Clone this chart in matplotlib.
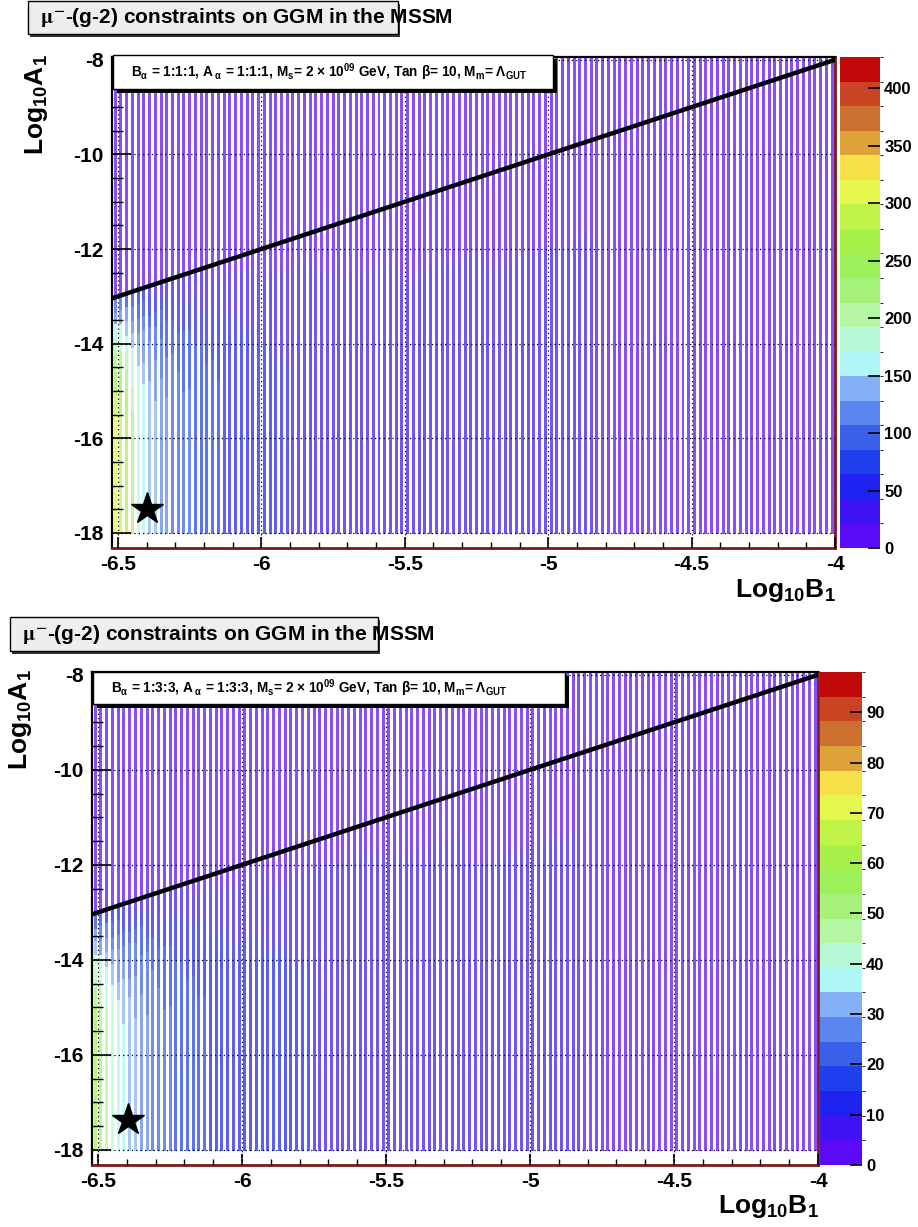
import numpy as np
import matplotlib
matplotlib.use('Agg')
import matplotlib.pyplot as plt
from matplotlib.colors import ListedColormap, BoundaryNorm
from matplotlib.cm import ScalarMappable
from matplotlib.patches import Rectangle
from matplotlib.ticker import MultipleLocator

plt.rcParams['font.family'] = ['Liberation Sans', 'DejaVu Sans']
plt.rcParams['font.weight'] = 'bold'
plt.rcParams['axes.unicode_minus'] = False
plt.rcParams['mathtext.fontset'] = 'custom'
plt.rcParams['mathtext.rm'] = 'Liberation Sans:bold'
plt.rcParams['mathtext.it'] = 'Liberation Sans:bold'
plt.rcParams['mathtext.bf'] = 'Liberation Sans:bold'

W, H = 918, 1227

# ROOT palette, 20 contour bands (bottom -> top)
palette = ['#5a0af5', '#3c14f5', '#1e22f0', '#2040ee', '#3a60ea',
           '#5a84ee', '#84b0f6', '#b0f8f8', '#b8fad8', '#b4f6a4',
           '#a6f27a', '#9cf05a', '#a8f04a', '#c0f448', '#e4f84e',
           '#f5e04a', '#dea43a', '#cc7030', '#c84422', '#c00808']

# scan grid: log10 B1 columns, log10 A1 rows
b_grid = np.round(np.arange(-6.51, -4.0, 0.02), 2)
a_grid = np.arange(-18.0, -7.99, 0.0625)

# black line  log10 A1 = 2 log10 B1
line_b = [-6.52, -4.0]
line_a = [-13.04, -8.0]

# mass value per column well below the line
top_cols = ([300, 285, 265, 225, 190, 165, 148, 133, 122, 112,
             104, 97, 91, 86, 81, 77, 73, 69, 66, 63,
             60, 58, 56, 54, 52, 50, 48, 46, 45, 44,
             43, 42, 41, 40, 39, 38, 37, 36, 35, 34]
            + [32] * 10 + [28] * 15 + [23] * 20 + [18] * 20 + [14] * 21)
bot_cols = ([62, 53, 48, 43, 38, 35, 32, 30, 28, 26,
             24, 22, 21, 20, 19, 18, 17, 16, 15.5, 15,
             14.5, 14, 13.5, 13, 12.8, 12.6, 12.4, 12.2, 12, 11.8,
             11.5, 11.2, 11, 10.8, 10.5, 10.2, 10, 9.8, 9.6, 9.4]
            + [9] * 10 + [7.5] * 15 + [6] * 20 + [4.5] * 20 + [3] * 21)
top_above, bot_above = 12, 3
top_vmax, bot_vmax = 427, 98

# reduction just under the line (depth below the line in decades of A1)
depth_edges = [0.3, 0.6, 0.9, 1.2, 1.6, 2.0, 2.5]
depth_scale = [0.3, 0.42, 0.55, 0.66, 0.76, 0.85, 0.93, 1.0]

top_ticks = [0, 50, 100, 150, 200, 250, 300, 350, 400]
bot_ticks = [0, 10, 20, 30, 40, 50, 60, 70, 80, 90]
top_star = (-6.40, -17.5)
bot_star = (-6.395, -17.37)

title = r"$\mathrm{\mu}^{\mathbf{-}}$-(g-2) constraints on GGM in the MSSM"
top_leg = (r"B$_{\alpha}$ = 1:1:1, A$_{\ \alpha}$ = 1:1:1, M$_{s}$= 2 $\times$ 10$^{09}$ GeV, "
           r"Tan $\beta$= 10, M$_{m}$= $\Lambda_{GUT}$")
bot_leg = (r"B$_{\alpha}$ = 1:3:3, A$_{\ \alpha}$ = 1:3:3, M$_{s}$= 2 $\times$ 10$^{09}$ GeV, "
           r"Tan $\beta$= 10, M$_{m}$= $\Lambda_{GUT}$")


def fbox(x0, y0, x1, y1):
    return [x0 / W, 1 - y1 / H, (x1 - x0) / W, (y1 - y0) / H]


def prect(x0, y0, x1, y1, **kw):
    b = fbox(x0, y0, x1, y1)
    return Rectangle((b[0], b[1]), b[2], b[3], transform=fig.transFigure, **kw)


fig = plt.figure(figsize=(W / 100, H / 100), dpi=100)
cmap = ListedColormap(palette)

# stripe geometry: each scan column is drawn as a thin strip, white gap between
half_w = 0.0052
x_edges = np.column_stack([b_grid - half_w, b_grid + half_w]).ravel()
a_step = a_grid[1] - a_grid[0]
y_edges = np.append(a_grid - a_step / 2, a_grid[-1] + a_step / 2)


def panel(ax_px, cb_px, cols, above, vmax, ticks, star, leg, title_px, leg_px,
          ylab_xy, xlab_xy):
    ax = fig.add_axes(fbox(*ax_px))
    norm = BoundaryNorm(np.linspace(0, vmax, 21), cmap.N)

    BB, AA = np.meshgrid(b_grid, a_grid)
    depth = np.interp(BB, line_b, line_a) - AA
    scale = np.array(depth_scale)[np.digitize(depth, depth_edges)]
    colv = np.array(cols, dtype=float)[None, :] * np.ones_like(BB)
    val = np.where(depth > 0, np.maximum(colv * scale, above), above)

    cells = np.full((len(a_grid), 2 * len(b_grid) - 1), np.nan)
    cells[:, ::2] = val
    ax.pcolormesh(x_edges, y_edges, np.ma.masked_invalid(cells), cmap=cmap,
                  norm=norm, alpha=0.72, antialiased=False, zorder=1)

    ax.plot(line_b, line_a, color='black', lw=3.2, zorder=4, solid_capstyle='butt')
    ax.plot(*star, marker='*', color='black', ms=24, zorder=5)

    ax.set_xlim(-6.521, -4.0)
    ax.set_ylim(-18.32, -7.94)
    ax.xaxis.set_minor_locator(MultipleLocator(0.1))
    ax.yaxis.set_major_locator(MultipleLocator(2))
    ax.yaxis.set_minor_locator(MultipleLocator(0.5))
    ax.set_xticks([-6.5, -6, -5.5, -5, -4.5, -4])
    ax.set_xticklabels(['-6.5', '-6', '-5.5', '-5', '-4.5', '-4'])
    ax.tick_params(axis='x', which='major', direction='in', length=8, width=1.2,
                   labelsize=15, pad=5)
    ax.tick_params(axis='x', which='minor', direction='in', length=4, width=1.0)
    ax.tick_params(axis='y', which='major', direction='in', length=14, width=1.2,
                   labelsize=15, pad=6)
    ax.tick_params(axis='y', which='minor', direction='in', length=8, width=1.0)
    for lab in ax.get_xticklabels() + ax.get_yticklabels():
        lab.set_fontweight('bold')
    ax.set_axisbelow(False)
    ax.grid(True, which='major', color='black', lw=0.9, ls=(0, (1, 2.5)), zorder=2)
    ax.spines['left'].set_color('black')
    ax.spines['left'].set_linewidth(1.6)
    ax.spines['top'].set_color('black')
    ax.spines['top'].set_linewidth(1.6)
    for s in ('bottom', 'right'):
        ax.spines[s].set_color('#7a1a1a')
        ax.spines[s].set_linewidth(2.0)

    cax = fig.add_axes(fbox(*cb_px))
    cb = fig.colorbar(ScalarMappable(norm=norm, cmap=cmap), cax=cax)
    cb.outline.set_visible(False)
    cb.set_ticks(ticks)
    cb.ax.tick_params(direction='in', length=9, width=1.2, labelsize=12, pad=3)
    for lab in cb.ax.get_yticklabels():
        lab.set_fontweight('bold')

    # title pave
    x0, y0, x1, y1 = title_px
    fig.add_artist(prect(x0 + 2, y0 + 3, x1 + 2, y1 + 3, facecolor='#333333',
                         edgecolor='none', zorder=8))
    fig.add_artist(prect(x0, y0, x1, y1, facecolor='#eeeeee', edgecolor='black',
                         lw=1.0, zorder=9))
    fig.text((x0 + 12) / W, 1 - (y0 + y1) / 2 / H, title, fontsize=15,
             fontweight='bold', va='center', ha='left', zorder=10,
             math_fontfamily='stix')

    # legend pave with shadow
    x0, y0, x1, y1 = leg_px
    fig.add_artist(prect(x0 + 4, y0 + 4, x1 + 4, y1 + 4, facecolor='black',
                         edgecolor='none', zorder=8))
    fig.add_artist(prect(x0, y0, x1, y1, facecolor='white', edgecolor='black',
                         lw=1.0, zorder=9))
    fig.text((x0 + 18) / W, 1 - (y0 + y1) / 2 / H, leg, fontsize=9.8,
             fontweight='bold', va='center', ha='left', zorder=10)

    fig.text(ylab_xy[0] / W, 1 - ylab_xy[1] / H, r"Log$_{10}$A$_{1}$", fontsize=19,
             fontweight='bold', rotation=90, ha='center', va='center')
    fig.text(xlab_xy[0] / W, 1 - xlab_xy[1] / H, r"Log$_{10}$B$_{1}$", fontsize=19,
             fontweight='bold', ha='center', va='center')


panel((112, 57, 835, 548), (840, 57, 880, 548), top_cols, top_above, top_vmax,
      top_ticks, top_star, top_leg, (28, 1, 398, 34), (113, 55, 553, 89),
      (36, 105), (785, 590))
panel((92, 672, 818, 1165), (820, 672, 862, 1165), bot_cols, bot_above, bot_vmax,
      bot_ticks, bot_star, bot_leg, (10, 617, 378, 651), (93, 672, 565, 704),
      (20, 720), (768, 1207))

fig.savefig('out.png', dpi=100)
